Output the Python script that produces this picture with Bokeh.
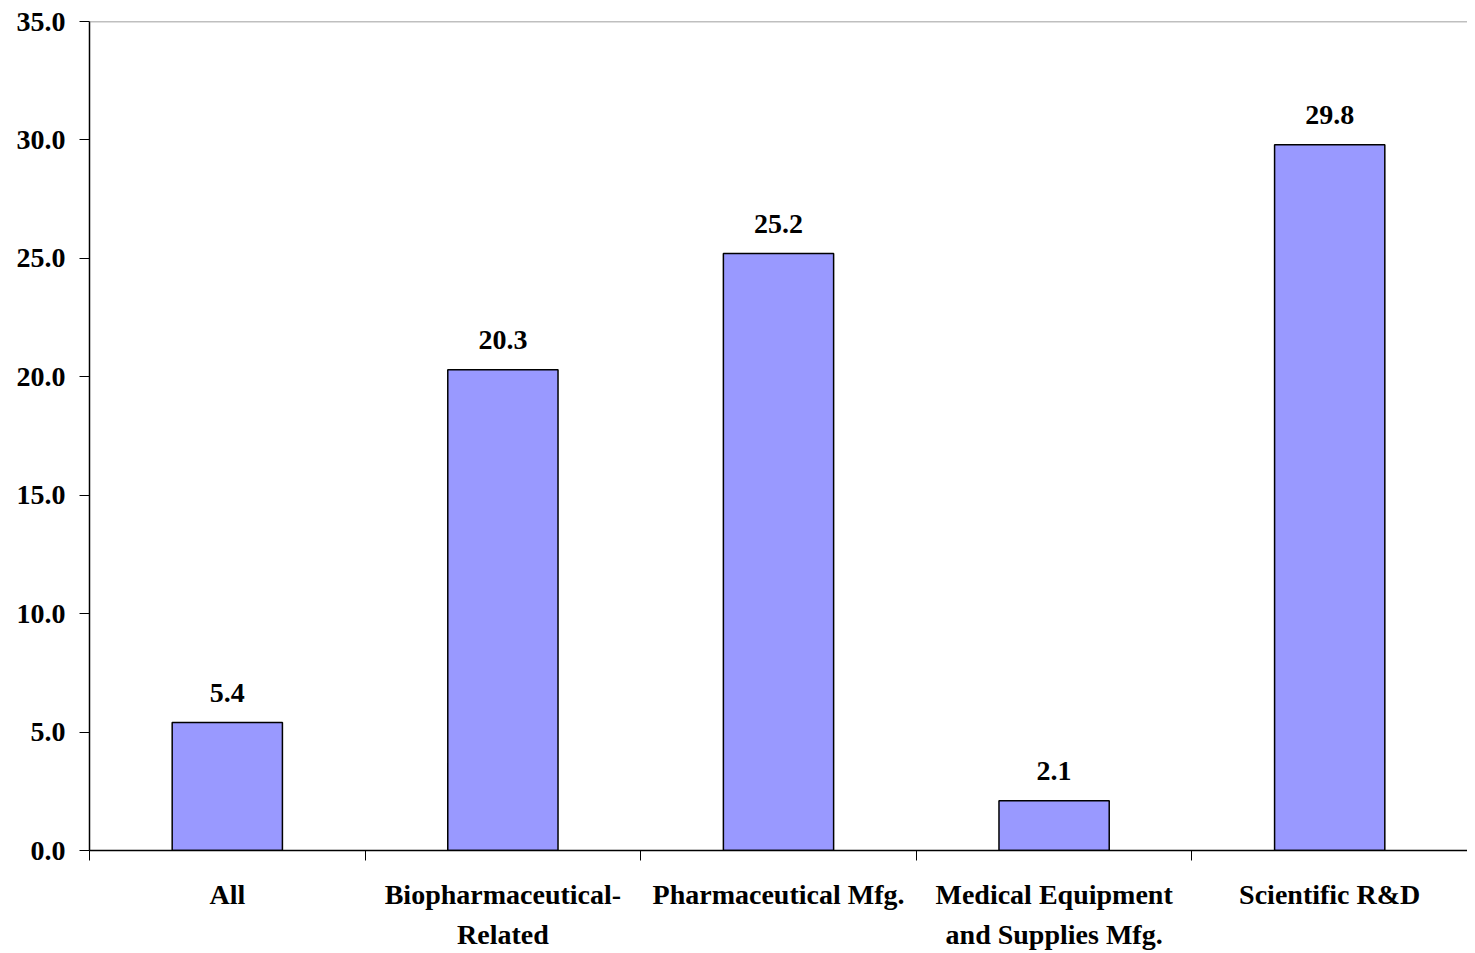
from bokeh.plotting import figure
from bokeh.models import ColumnDataSource, FixedTicker, Span, Range1d
from bokeh.embed import file_html
from bokeh.resources import INLINE
from bokeh.core.properties import value

categories = ["All", "Biopharmaceutical-\nRelated", "Pharmaceutical Mfg.",
              "Medical Equipment\nand Supplies Mfg.", "Scientific R&D"]
values = [5.4, 20.3, 25.2, 2.1, 29.8]
value_labels = ["5.4", "20.3", "25.2", "2.1", "29.8"]
y_ticks = [0, 5, 10, 15, 20, 25, 30, 35]

FONT = "Liberation Serif"
FS = "28px"

positions = [i + 0.5 for i in range(len(categories))]
src = ColumnDataSource(dict(x=positions, top=values, lab=value_labels))

p = figure(width=1467, height=952, output_backend="svg", toolbar_location=None,
           x_range=Range1d(0, len(categories)), y_range=Range1d(0, 35))
p.min_border_left = 89
p.min_border_top = 21
p.min_border_right = 0
p.min_border_bottom = 0
p.outline_line_color = None
p.grid.grid_line_color = None
p.background_fill_color = "white"

p.vbar(x="x", top="top", width=0.4, source=src, fill_color="#9999FF",
       line_color="black", line_width=1.5)
p.text(x="x", y="top", text="lab", source=src, text_align="center",
       text_baseline="alphabetic", y_offset=-30, text_font=value(FONT),
       text_font_style="bold", text_font_size=FS, text_color="black")

p.add_layout(Span(location=35, dimension="width", line_color="#808080", line_width=1.5))

xa = p.xaxis[0]
xa.ticker = FixedTicker(ticks=positions, minor_ticks=list(range(len(categories) + 1)))
xa.major_label_overrides = {pos: c for pos, c in zip(positions, categories)}
xa.major_tick_line_color = None
xa.minor_tick_line_color = "black"
xa.minor_tick_out = 10
xa.minor_tick_in = 0
xa.axis_line_color = "black"
xa.axis_line_width = 1.5
xa.major_label_text_font = FONT
xa.major_label_text_font_style = "bold"
xa.major_label_text_font_size = FS
xa.major_label_text_color = "black"
xa.major_label_standoff = 18
xa.major_label_text_line_height = 1.3

ya = p.yaxis[0]
ya.ticker = FixedTicker(ticks=y_ticks, minor_ticks=[])
ya.major_label_overrides = {t: f"{t:.1f}" for t in y_ticks}
ya.major_tick_out = 10
ya.major_tick_in = 0
ya.axis_line_color = "black"
ya.axis_line_width = 1.5
ya.major_label_text_font = FONT
ya.major_label_text_font_style = "bold"
ya.major_label_text_font_size = FS
ya.major_label_text_color = "black"
ya.major_label_standoff = 14

open("out.html", "w").write(file_html(p, INLINE))
